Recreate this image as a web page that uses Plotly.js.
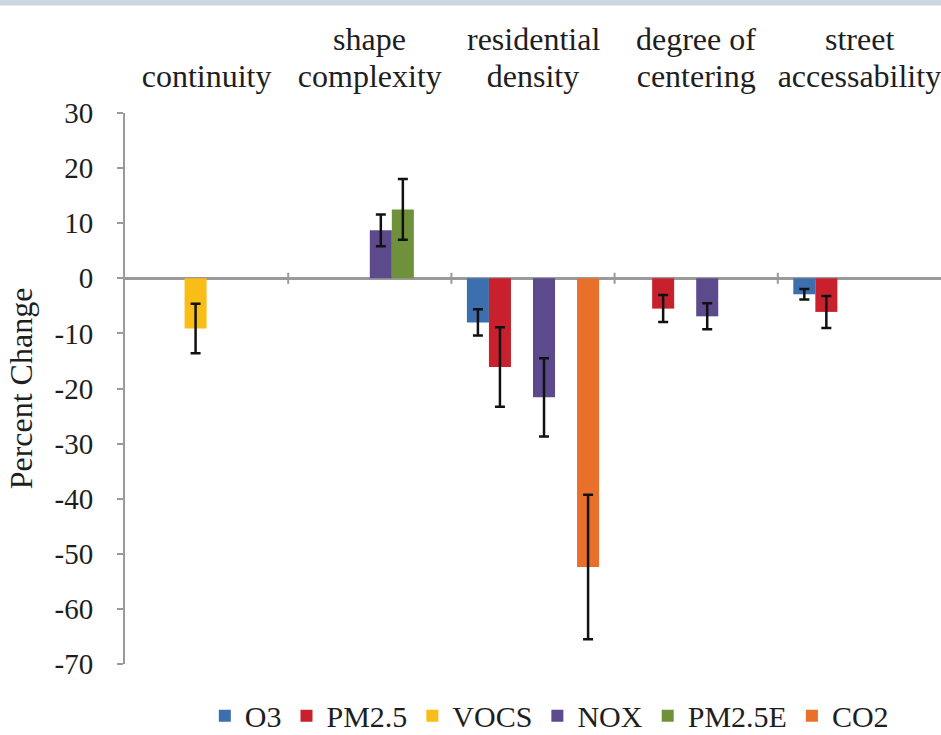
<!DOCTYPE html>
<html>
<head>
<meta charset="utf-8">
<script src="https://cdn.plot.ly/plotly-3.0.1.min.js"></script>
<style>html,body{margin:0;padding:0;background:#fff;}#chart{width:941px;height:735px;}</style>
</head>
<body>
<div id="chart"></div>
<script>
const labelLine1 = ["", "shape", "residential", "degree of", "street"];
const labelLine2 = ["continuity", "complexity", "density", "centering", "accessability"];
const categories = labelLine2.map((l2, i) => (labelLine1[i] ? labelLine1[i] + " " : "") + l2);
const seriesNames = ["O3", "PM2.5", "VOCS", "NOX", "PM2.5E", "CO2"];
const seriesColors = ["#3d6fae", "#c8202d", "#f9bd17", "#5d4a8c", "#6f9139", "#e8702a"];
const o3     = [null, null, -8.0, null, -2.9];
const pm25   = [null, null, -16.1, -5.5, -6.1];
const vocs   = [-9.1, null, null, null, null];
const nox    = [null, 8.7, -21.6, -6.9, null];
const pm25e  = [null, 12.5, null, null, null];
const co2    = [null, null, -52.4, null, null];
const o3Err    = [null, null, 2.4, null, 0.95];
const pm25Err  = [null, null, 7.2, 2.45, 2.9];
const vocsErr  = [4.5, null, null, null, null];
const noxErr   = [null, 2.9, 7.1, 2.35, null];
const pm25eErr = [null, 5.5, null, null, null];
const co2Err   = [null, null, 13.1, null, null];
const yTicks = [30, 20, 10, 0, -10, -20, -30, -40, -50, -60, -70];
const yTickText = ["30", "20", "10", "0", "-10", "-20", "-30", "-40", "-50", "-60", "-70"];

const values = [o3, pm25, vocs, nox, pm25e, co2];
const errors = [o3Err, pm25Err, vocsErr, noxErr, pm25eErr, co2Err];
const FONT = "'Liberation Serif', 'Times New Roman', Times, serif";
const TXT = "#1e1e1e";

const traces = seriesNames.map((name, i) => ({
  type: "bar",
  name: name,
  x: categories,
  y: values[i],
  marker: {color: seriesColors[i]},
  error_y: {type: "data", array: errors[i], visible: true, color: "#111", thickness: 2.5, width: 5},
  hoverinfo: "x+y+name"
}));

const shapes = categories.slice(1).map((c, i) => ({
  type: "line", xref: "x", yref: "y",
  x0: i + 0.5, x1: i + 0.5, y0: -1.0, y1: 1.0,
  line: {color: "#9a9a9a", width: 2}
}));
shapes.push({type: "rect", xref: "paper", yref: "paper", x0: -0.2, x1: 1.1, y0: 1.195, y1: 1.25,
  fillcolor: "#ccd6e0", line: {width: 0}});

const annotations = labelLine1.map((t, i) => ({
  text: t, xref: "x", yref: "paper", x: categories[i], y: 1,
  yanchor: "middle", xanchor: "center", yshift: 74, showarrow: false,
  font: {family: FONT, size: 32, color: TXT}
})).filter(a => a.text);

const layout = {
  width: 941, height: 735,
  margin: {l: 125, r: 0, t: 113, b: 71, autoexpand: false},
  paper_bgcolor: "#fff", plot_bgcolor: "#fff",
  font: {family: FONT, size: 30, color: TXT},
  barmode: "group", bargap: 0.19, bargroupgap: 0,
  showlegend: true,
  legend: {orientation: "h", x: 0.52, xanchor: "center", y: -0.094, yanchor: "middle",
    font: {family: FONT, size: 30, color: TXT}, traceorder: "normal", itemwidth: 30},
  xaxis: {type: "category", side: "top", showline: false, ticks: "", showgrid: false, automargin: false,
    tickvals: categories, ticktext: labelLine2,
    zeroline: false, tickfont: {family: FONT, size: 32, color: TXT}, ticklabelstandoff: 19, fixedrange: true},
  yaxis: {range: [-70, 30], tickvals: yTicks, ticktext: yTickText, showline: true, linecolor: "#9a9a9a", linewidth: 2,
    ticks: "outside", ticklen: 6, tickwidth: 2, tickcolor: "#9a9a9a", showgrid: false, automargin: false,
    zeroline: true, zerolinecolor: "#9a9a9a", zerolinewidth: 2.5,
    tickfont: {family: FONT, size: 29, color: TXT}, ticklabelstandoff: 18,
    title: {text: "Percent Change", font: {family: FONT, size: 32, color: TXT}, standoff: 12}},
  annotations: annotations,
  shapes: shapes
};

Plotly.newPlot("chart", traces, layout, {displayModeBar: false, staticPlot: true});
</script>
</body>
</html>
